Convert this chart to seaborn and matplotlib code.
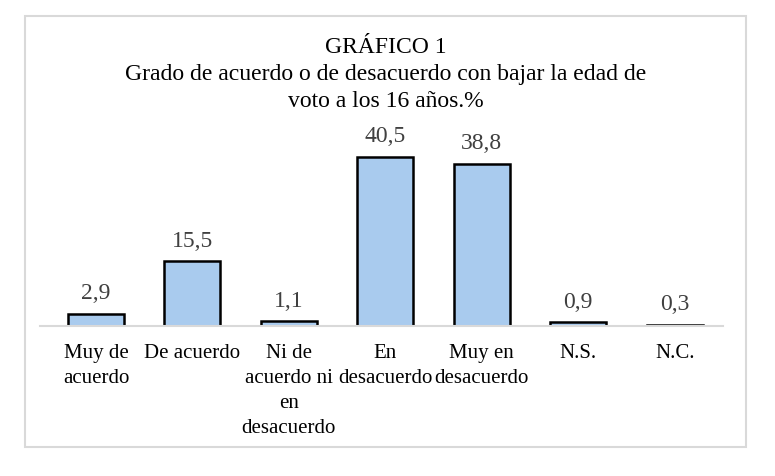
import seaborn as sns
import matplotlib.pyplot as plt
import pandas as pd

categorias = ["Muy de\nacuerdo", "De acuerdo", "Ni de\nacuerdo ni\nen\ndesacuerdo",
              "En\ndesacuerdo", "Muy en\ndesacuerdo", "N.S.", "N.C."]
porcentajes = [2.9, 15.5, 1.1, 40.5, 38.8, 0.9, 0.3]
titulo = "GRÁFICO 1\nGrado de acuerdo o de desacuerdo con bajar la edad de\nvoto a los 16 años.%"

df = pd.DataFrame({"cat": categorias, "pct": porcentajes})

sns.set_style("white")
plt.rcParams['font.family'] = ['Liberation Serif', 'DejaVu Serif']

fig = plt.figure(figsize=(7.75, 4.76), dpi=100)
# marco gris alrededor del gráfico
fig.patches.append(plt.Rectangle((25 / 775, 1 - 447 / 476), 721 / 775, 431 / 476,
                                 transform=fig.transFigure, fill=False,
                                 edgecolor="#d9d9d9", linewidth=1.5))

ax = fig.add_axes([40 / 775, 1 - 326 / 476, 683 / 775, 186 / 476])
sns.barplot(data=df, x="cat", y="pct", color="#a9cbee", edgecolor="black",
            linewidth=1.8, width=0.58, saturation=1, ax=ax)

ax.set_ylim(0, 186 / 4.17)
ax.set_xlim(-0.58, 6.5)
for s in ["top", "right", "left"]:
    ax.spines[s].set_visible(False)
ax.spines["bottom"].set_color("#d9d9d9")
ax.spines["bottom"].set_linewidth(1.5)
ax.set_yticks([])
ax.set_xlabel("")
ax.set_ylabel("")
ax.tick_params(axis="x", length=0, pad=13, labelsize=15, colors="black")
for lbl in ax.get_xticklabels():
    lbl.set_linespacing(1.42)
    lbl.set_verticalalignment("top")

for i, v in enumerate(porcentajes):
    ax.annotate(f"{v:.1f}".replace(".", ","), (i, v), xytext=(0, 7),
                textcoords="offset points", ha="center", va="bottom",
                fontsize=17, color="#404040")

fig.text(386 / 775, 1 - 37 / 476, titulo, ha="center", va="top",
         fontsize=17, linespacing=1.38, color="black")

fig.savefig("out.png", dpi=100)
